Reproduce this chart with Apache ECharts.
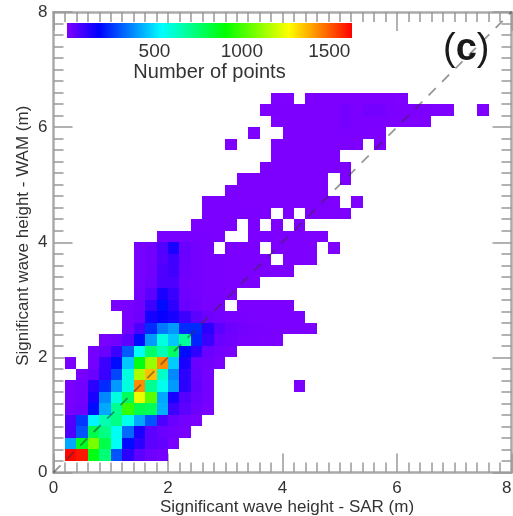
<!DOCTYPE html>
<html>
<head>
<meta charset="utf-8">
<style>
html, body { margin: 0; padding: 0; background: #fff; }
#main { width: 513px; height: 516px; filter: blur(0.6px); }
</style>
<script src="https://cdn.jsdelivr.net/npm/echarts@6/dist/echarts.min.js"></script>
</head>
<body>
<div id="main"></div>
<script>
var myChart = echarts.init(document.getElementById('main'));

var binSize = 0.2;
var countMax = 1630;
var colorStops = ['#7f00ff', '#0000ff', '#0080ff', '#00ffff', '#00ff80', '#00ff00', '#80ff00', '#ffff00', '#ff8000', '#ff0000'];
var xTitle = 'Significant wave height - SAR (m)';
var yTitle = 'Significant wave height - WAM (m)';
var barTitle = 'Number of points';

// first filled column of every row, rows go up from 0.2 m
var rowStart = [1, 1, 1, 1, 1, 1, 1, 2, 1, 3, 4, 6, 6, 5, 7, 7, 7, 7, 7, 9, 12, 13, 13, 15, 16, 18, 19, 15, 17, 19, 18, 19];
// number of points per 0.2 m bin, 0 is an empty bin
var rowCounts = [
    [1620, 1600, 880, 740, 300, 120, 50, 25, 15],
    [420, 860, 1075, 800, 555, 195, 120, 50, 40, 10],
    [72, 300, 800, 717, 560, 330, 146, 50, 30, 20, 10],
    [65, 260, 530, 655, 717, 570, 420, 300, 72, 30, 15, 8],
    [15, 25, 195, 420, 700, 977, 800, 780, 430, 95, 50, 25, 10],
    [10, 20, 146, 375, 590, 780, 1240, 1030, 420, 150, 60, 30, 15],
    [8, 18, 120, 240, 400, 590, 1430, 700, 570, 400, 120, 40, 15, 0, 0, 0, 0, 0, 0, 0, 5],
    [10, 30, 100, 280, 590, 1150, 1360, 620, 375, 120, 35, 15],
    [8, 0, 15, 95, 195, 465, 880, 1120, 1430, 470, 146, 30, 20, 8],
    [15, 30, 95, 310, 555, 760, 650, 770, 195, 115, 30, 15, 8],
    [8, 20, 50, 195, 400, 590, 465, 690, 230, 95, 30, 20, 10, 8, 6, 5],
    [15, 70, 240, 350, 400, 240, 240, 120, 50, 25, 15, 10, 8, 7, 6, 5, 4],
    [10, 25, 150, 170, 150, 95, 50, 25, 15, 10, 8, 7, 6, 5, 5, 4],
    [8, 12, 20, 95, 195, 120, 30, 20, 12, 8, 0, 6, 5, 5, 4, 3],
    [15, 50, 146, 100, 25, 15, 10, 8, 5],
    [10, 25, 72, 72, 20, 15, 10, 8, 6, 5, 4],
    [10, 20, 70, 90, 25, 15, 10, 8, 6, 5, 5, 4, 4, 3],
    [10, 20, 60, 90, 30, 15, 10, 8, 6, 5, 4, 4, 0, 3, 3, 2],
    [10, 20, 65, 146, 30, 15, 10, 0, 6, 5, 4, 0, 3, 3, 3, 2, 0, 2],
    [10, 12, 12, 10, 8, 6, 0, 0, 4, 4, 3, 3, 3, 2, 2],
    [6, 6, 5, 5, 0, 4, 0, 3, 0, 2],
    [5, 5, 5, 4, 4, 3, 0, 3, 0, 3, 2, 2, 2],
    [4, 4, 4, 4, 3, 3, 3, 3, 3, 3, 3, 2, 0, 2],
    [3, 3, 3, 3, 3, 3, 3, 3, 3],
    [3, 3, 3, 3, 3, 3, 3, 3, 0, 2],
    [3, 3, 3, 3, 3, 3, 3, 3],
    [3, 3, 3, 3, 3, 3],
    [1, 0, 0, 0, 3, 3, 3, 3, 3, 3, 3, 3, 0, 2],
    [1, 0, 0, 3, 3, 3, 3, 3, 4, 4, 3, 3],
    [2, 3, 3, 3, 3, 3, 15, 4, 4, 4, 3, 3, 2, 2],
    [2, 3, 3, 3, 3, 3, 3, 15, 4, 15, 15, 4, 3, 3, 3, 2, 2, 0, 0, 1],
    [2, 2, 0, 3, 3, 3, 3, 3, 3, 3, 3, 2]
];
var diagonal = [[0, 0], [8, 8]];

var cells = [];
rowCounts.forEach(function (counts, r) {
    counts.forEach(function (count, c) {
        if (count > 0) {
            cells.push([(rowStart[r] + c) * binSize, (r + 1) * binSize, count]);
        }
    });
});

function renderCell(params, api) {
    var p0 = api.coord([api.value(0), api.value(1) + binSize]);
    var p1 = api.coord([api.value(0) + binSize, api.value(1)]);
    var x0 = Math.round(p0[0]), y0 = Math.round(p0[1]);
    return {
        type: 'rect',
        shape: { x: x0, y: y0, width: Math.round(p1[0]) - x0, height: Math.round(p1[1]) - y0 },
        style: { fill: api.visual('color') }
    };
}

function renderBar(params, api) {
    var p0 = api.coord([api.value(0), 1]);
    var p1 = api.coord([api.value(1), 0]);
    var stops = colorStops.map(function (c, i) {
        return { offset: i / (colorStops.length - 1), color: c };
    });
    return {
        type: 'rect',
        shape: { x: p0[0], y: p0[1], width: p1[0] - p0[0], height: p1[1] - p0[1] },
        style: { fill: new echarts.graphic.LinearGradient(0, 0, 1, 0, stops) }
    };
}

var tickColor = '#999';
var textColor = '#333';
var fontName = 'Liberation Sans';

function plotAxis(extra) {
    return Object.assign({
        type: 'value',
        min: 0,
        max: 8,
        interval: 2,
        gridIndex: 0,
        axisLine: { show: true, onZero: false, lineStyle: { color: '#aaa', width: 2.5 } },
        axisTick: { show: true, inside: true, length: 19, lineStyle: { color: tickColor, width: 1.5 } },
        minorTick: { show: true, splitNumber: 10, length: 10, lineStyle: { color: tickColor, width: 1.5 } },
        splitLine: { show: false },
        minorSplitLine: { show: false },
        axisLabel: { show: false }
    }, extra);
}

var labelStyle = { show: true, color: textColor, fontFamily: fontName, fontSize: 17, margin: 6, hideOverlap: false, showMinLabel: true, showMaxLabel: true };

option = {
    backgroundColor: '#fff',
    animation: false,
    title: {
        text: '{p|(}{c|c}{p|)}',
        left: 443,
        top: 31,
        padding: 0,
        textStyle: {
            fontFamily: fontName,
            fontSize: 38,
            rich: {
                p: { color: '#1a1a1a', fontFamily: fontName, fontSize: 38, fontWeight: 'normal' },
                c: { color: '#1a1a1a', fontFamily: fontName, fontSize: 38, fontWeight: 'bold' }
            }
        }
    },
    grid: [
        { left: 53.5, right: 1.5, top: 12, bottom: 43.5, outerBoundsMode: 'none' },
        { left: 67, right: 161, top: 23, height: 15, outerBoundsMode: 'none' }
    ],
    visualMap: {
        show: false,
        min: 0,
        max: countMax,
        dimension: 2,
        seriesIndex: 0,
        inRange: { color: colorStops }
    },
    xAxis: [
        plotAxis({
            position: 'bottom',
            name: xTitle,
            nameLocation: 'middle',
            nameGap: 26,
            nameMoveOverlap: false,
            nameTextStyle: { color: textColor, fontFamily: fontName, fontSize: 17, padding: [0, 0, 0, 9] },
            axisLabel: Object.assign({}, labelStyle, { margin: 7, alignMaxLabel: 'right' })
        }),
        plotAxis({ position: 'top' }),
        {
            type: 'value',
            gridIndex: 1,
            min: 0,
            max: countMax,
            interval: 500,
            position: 'bottom',
            name: barTitle,
            nameLocation: 'middle',
            nameGap: 24,
            nameMoveOverlap: false,
            nameTextStyle: { color: textColor, fontFamily: fontName, fontSize: 20 },
            axisLine: { show: false },
            axisTick: { show: true, inside: true, length: 3, lineStyle: { color: '#555', width: 1 } },
            minorTick: { show: false },
            splitLine: { show: false },
            axisLabel: {
                show: true, color: textColor, fontFamily: fontName, fontSize: 19, margin: 4,
                formatter: function (v) { return v === 0 ? '' : v; }
            }
        }
    ],
    yAxis: [
        plotAxis({
            position: 'left',
            name: yTitle,
            nameLocation: 'middle',
            nameGap: 22,
            nameMoveOverlap: false,
            nameTextStyle: { color: textColor, fontFamily: fontName, fontSize: 17, padding: [0, 0, 0, 13] },
            axisLabel: labelStyle
        }),
        plotAxis({ position: 'right' }),
        { type: 'value', gridIndex: 1, min: 0, max: 1, show: false }
    ],
    series: [
        {
            type: 'custom',
            xAxisIndex: 0,
            yAxisIndex: 0,
            renderItem: renderCell,
            encode: { x: 0, y: 1 },
            data: cells,
            z: 2
        },
        {
            type: 'line',
            xAxisIndex: 0,
            yAxisIndex: 0,
            data: diagonal,
            symbol: 'none',
            silent: true,
            lineStyle: { color: 'rgba(50,50,50,0.5)', width: 1.8, type: [10, 9] },
            z: 3
        },
        {
            type: 'custom',
            xAxisIndex: 2,
            yAxisIndex: 2,
            renderItem: renderBar,
            encode: { x: [0, 1] },
            data: [[0, countMax]],
            z: 2
        }
    ]
};

myChart.setOption(option);
</script>
</body>
</html>
